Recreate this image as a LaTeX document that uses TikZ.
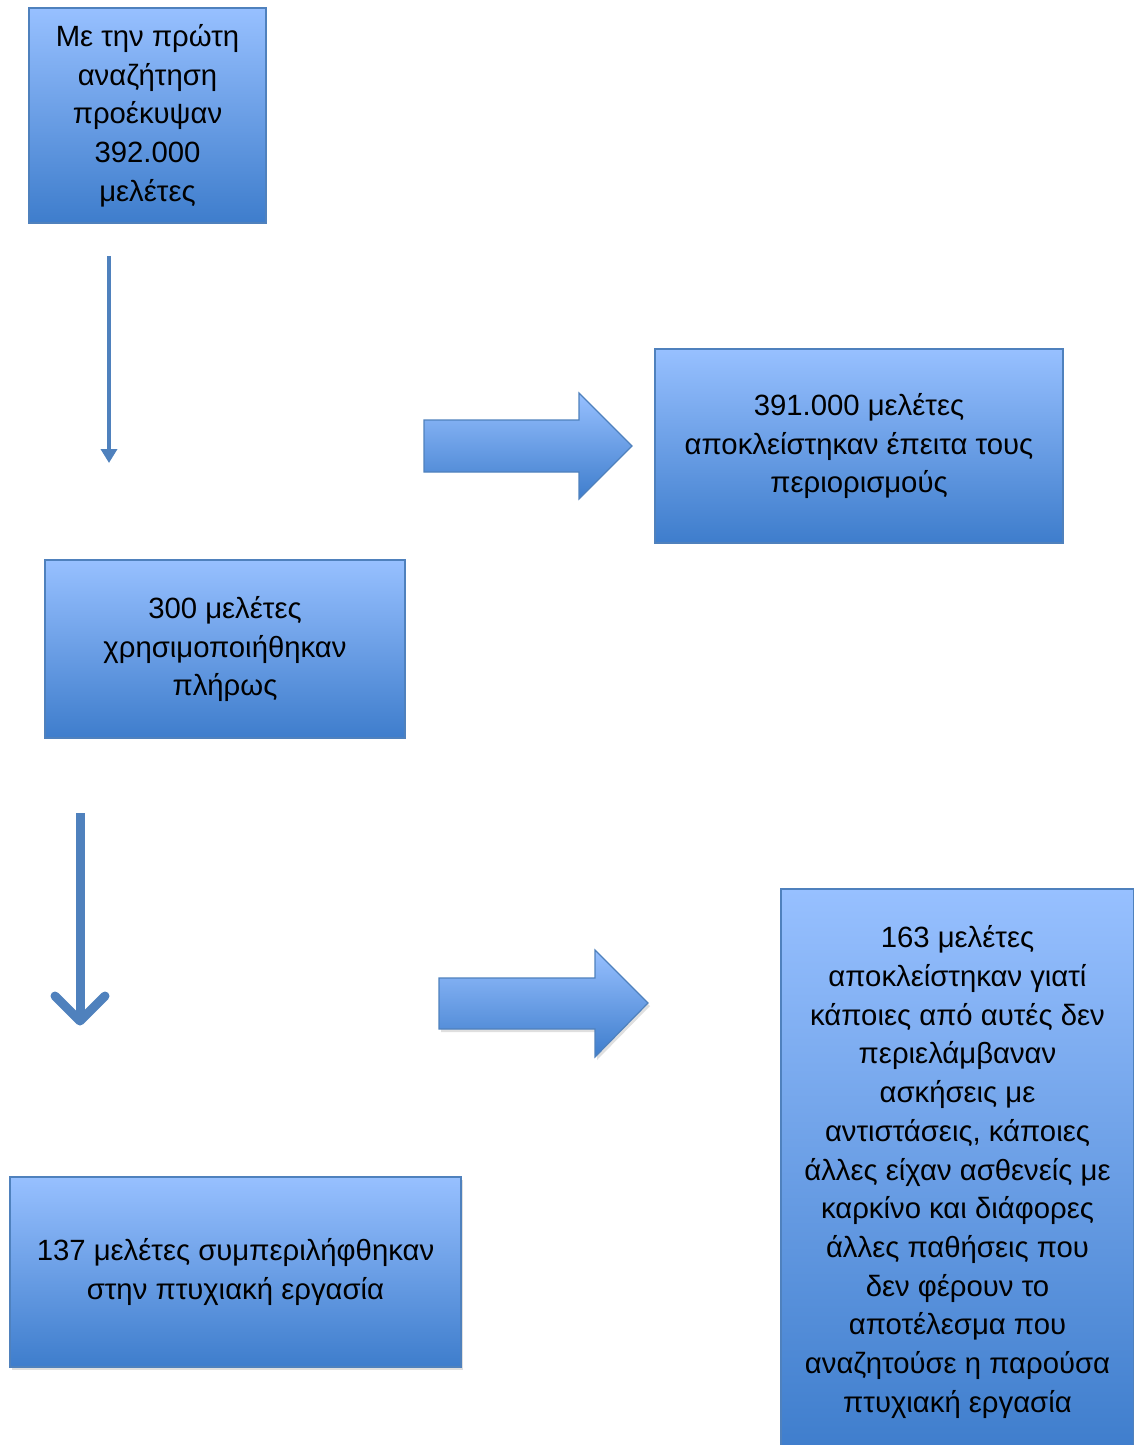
\documentclass[tikz,border=0pt]{standalone}
\usepackage{fontspec}
\setmainfont{Liberation Sans}
\usetikzlibrary{arrows.meta,shadows}
\definecolor{boxtop}{RGB}{151,192,255}
\definecolor{boxbot}{RGB}{62,125,204}
\definecolor{boxline}{RGB}{79,129,189}
\definecolor{arrowblue}{RGB}{79,129,189}
\begin{document}
\begin{tikzpicture}[x=1pt,y=-1pt,
  box/.style={draw=boxline, line width=1.2pt, top color=boxtop, bottom color=boxbot,
    align=center, inner sep=0pt, font=\fontsize{29.3}{38.7}\selectfont},
  softshadow/.style={drop shadow={opacity=0.25, shadow xshift=2pt, shadow yshift=-3pt}},
  blockarrow/.style={draw=boxline, line width=1.2pt, top color=boxtop, bottom color=boxbot, line join=miter},
  thinarrow/.style={draw=arrowblue, line width=4pt, -{Triangle[width=16pt,length=14pt]}},
  thickarrow/.style={draw=arrowblue, line width=9pt}]
\useasboundingbox (0,0) rectangle (1134,1445);

% boxes
\node[box, minimum width=237pt, minimum height=215pt] (a) at (147.5,115.5)
  {Με την πρώτη\\αναζήτηση\\προέκυψαν\\392.000\\μελέτες};
\node[box, minimum width=408pt, minimum height=194pt] (b) at (859,446)
  {391.000 μελέτες\\αποκλείστηκαν έπειτα τους\\περιορισμούς};
\node[box, minimum width=360pt, minimum height=178pt] (c) at (225,649)
  {300 μελέτες\\χρησιμοποιήθηκαν\\πλήρως};
\node[box, softshadow, minimum width=451pt, minimum height=190pt] (d) at (235.5,1272)
  {137 μελέτες συμπεριλήφθηκαν\\στην πτυχιακή εργασία};
\node[box, softshadow, minimum width=353pt, minimum height=566pt] (e) at (957.5,1172)
  {163 μελέτες\\αποκλείστηκαν γιατί\\κάποιες από αυτές δεν\\περιελάμβαναν\\ασκήσεις με\\αντιστάσεις, κάποιες\\άλλες είχαν ασθενείς με\\καρκίνο και διάφορες\\άλλες παθήσεις που\\δεν φέρουν το\\αποτέλεσμα που\\αναζητούσε η παρούσα\\πτυχιακή εργασία};

% thin down arrow
\coordinate (t1) at (109,256);
\coordinate (t2) at (109,463);
\draw[thinarrow] (t1) -- (t2);

% block arrow 1
\coordinate (r1) at (424,446);
\path[blockarrow] (r1) ++(0,-26) -- (579,420) -- (579,393) -- (632,446) -- (579,499) -- (579,472) -- (424,472) -- cycle;

% thick down arrow
\coordinate (k1) at (80,813);
\coordinate (k2) at (80,1021);
\draw[thickarrow, drop shadow={opacity=0.25, shadow xshift=2pt, shadow yshift=-3pt}] (k1) -- ([yshift=4pt]k2);
\draw[thickarrow, line cap=round, line join=round] ([xshift=-25pt,yshift=25pt]k2) -- (k2) -- ([xshift=25pt,yshift=25pt]k2);

% block arrow 2
\coordinate (r2) at (439,1003);
\path[blockarrow, softshadow] (r2) ++(0,-25) -- (595,978) -- (595,950) -- (648,1003) -- (595,1057) -- (595,1029) -- (439,1029) -- cycle;
\end{tikzpicture}
\end{document}
